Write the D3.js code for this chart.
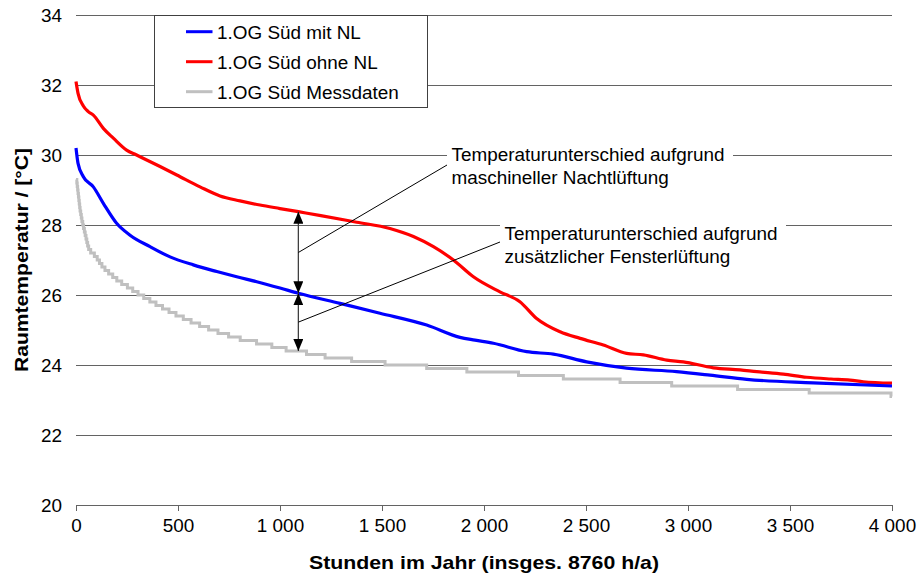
<!DOCTYPE html>
<html>
<head>
<meta charset="utf-8">
<script src="https://cdn.jsdelivr.net/npm/d3@7"></script>
<style>
  html, body { margin: 0; padding: 0; background: #fff; }
  svg { display: block; font-family: "Liberation Sans", Arial, sans-serif; }
</style>
</head>
<body>
<svg id="chart" width="919" height="577"></svg>
<script>
// Simulated room temperature, 1st floor south, with night ventilation (NL)
const mitNLHours = [0, 10, 36, 85, 134, 199, 265, 363, 461, 575, 690, 788, 886, 1000, 1090, 1294, 1490, 1719, 1882, 1956, 2046, 2209, 2340, 2503, 2699, 2944, 3108, 3288, 3614, 4000];
const mitNLTemps = [30.2, 29.76, 29.38, 29.09, 28.62, 28.05, 27.71, 27.38, 27.09, 26.86, 26.67, 26.52, 26.38, 26.2, 26.05, 25.76, 25.48, 25.14, 24.79, 24.71, 24.62, 24.38, 24.31, 24.09, 23.91, 23.81, 23.71, 23.59, 23.49, 23.4];

// Simulated room temperature without night ventilation
const ohneNLHours = [0, 10, 36, 60, 85, 134, 183, 248, 297, 412, 494, 608, 706, 804, 902, 1000, 1090, 1200, 1376, 1539, 1654, 1752, 1850, 1948, 2078, 2176, 2258, 2373, 2471, 2585, 2699, 2781, 2896, 2977, 3124, 3255, 3337, 3467, 3582, 3700, 3794, 3859, 4000];
const ohneNLTemps = [32.1, 31.76, 31.4, 31.24, 31.14, 30.76, 30.48, 30.14, 30.0, 29.67, 29.43, 29.09, 28.83, 28.69, 28.57, 28.47, 28.38, 28.27, 28.08, 27.9, 27.67, 27.38, 27.0, 26.52, 26.09, 25.81, 25.33, 24.95, 24.76, 24.57, 24.33, 24.29, 24.14, 24.09, 23.92, 23.86, 23.81, 23.74, 23.65, 23.6, 23.57, 23.52, 23.48];

// Measured data, logged in 0.1 °C steps: each level holds until the given hour
const messLevels = [29.3, 29.2, 29.1, 29.0, 28.9, 28.8, 28.7, 28.6, 28.5, 28.4, 28.3, 28.2, 28.1, 28.0, 27.9, 27.8, 27.7, 27.6, 27.5, 27.4, 27.3, 27.2, 27.1, 27.0, 26.9, 26.8, 26.7, 26.6, 26.5, 26.4, 26.3, 26.2, 26.1, 26.0, 25.9, 25.8, 25.7, 25.6, 25.5, 25.4, 25.3, 25.2, 25.1, 25.0, 24.9, 24.8, 24.7, 24.6, 24.5, 24.4, 24.3, 24.2, 24.1, 24.0, 23.9, 23.8, 23.7, 23.6, 23.5, 23.4, 23.3, 23.2, 23.1];
const messUntil  = [4, 6, 8, 10, 12, 14, 16, 18, 20, 23, 26, 29, 33, 37, 41, 45, 49, 53, 57, 62, 72, 90, 104, 115, 127, 142, 160, 180, 200, 224, 252, 278, 304, 332, 362, 392, 424, 456, 490, 526, 564, 606, 650, 696, 748, 805, 885, 960, 1030, 1130, 1221, 1351, 1515, 1719, 1916, 2169, 2389, 2667, 2920, 3243, 3594, 3995, 4000];

const xTicks = [0, 500, 1000, 1500, 2000, 2500, 3000, 3500, 4000];
const yTicks = [20, 22, 24, 26, 28, 30, 32, 34];

const seriesNames = ["1.OG Süd mit NL", "1.OG Süd ohne NL", "1.OG Süd Messdaten"];
const seriesColors = ["#0000ff", "#ff0000", "#c0c0c0"];

const annotationHour = 1090;
const noteNL = ["Temperaturunterschied aufgrund", "maschineller Nachtlüftung"];
const noteFenster = ["Temperaturunterschied aufgrund", "zusätzlicher Fensterlüftung"];

const xTitle = "Stunden im Jahr (insges. 8760 h/a)";
const yTitle = "Raumtemperatur / [°C]";

// ---------------------------------------------------------------
const svg = d3.select("#chart");
const margin = { left: 76, right: 27, top: 15, bottom: 72 };
const W = 919, H = 577;

const x = d3.scaleLinear().domain([0, 4000]).range([margin.left, W - margin.right]);
const y = d3.scaleLinear().domain([20, 34]).range([H - margin.bottom, margin.top]);

const fontSize = 18.9;
const gridColor = "#636363";

// horizontal grid lines
const grid = svg.append("g");
grid.selectAll("line")
  .data(yTicks.filter(t => t > 20))
  .join("line")
  .attr("x1", x(0)).attr("x2", x(4000))
  .attr("y1", d => y(d)).attr("y2", d => y(d))
  .attr("stroke", gridColor).attr("stroke-width", 1)
  .attr("shape-rendering", "crispEdges");

// y tick labels
svg.append("g").selectAll("text")
  .data(yTicks)
  .join("text")
  .attr("x", 62).attr("y", d => y(d))
  .attr("dy", "0.36em")
  .attr("text-anchor", "end")
  .attr("font-size", fontSize)
  .attr("fill", "#000")
  .text(d => d);

// x axis
const xAxis = d3.axisBottom(x).tickValues(xTicks).tickSize(6).tickPadding(8)
  .tickFormat(d => d3.format(",")(d).replace(/,/g, " "));
const gx = svg.append("g")
  .attr("transform", `translate(0,${y(20)})`)
  .call(xAxis);
gx.select(".domain").attr("stroke", gridColor).attr("shape-rendering", "crispEdges");
gx.selectAll(".tick line").attr("stroke", gridColor).attr("shape-rendering", "crispEdges");
gx.selectAll(".tick text")
  .attr("font-size", fontSize)
  .attr("font-family", "Liberation Sans, Arial, sans-serif")
  .attr("fill", "#000");

// axis titles
svg.append("text")
  .attr("x", 309).attr("y", 569)
  .attr("font-size", 19).attr("font-weight", "bold")
  .attr("textLength", 350).attr("lengthAdjust", "spacingAndGlyphs")
  .text(xTitle);

svg.append("text")
  .attr("transform", `translate(28,${(y(20) + y(34)) / 2}) rotate(-90)`)
  .attr("text-anchor", "middle")
  .attr("font-size", 19).attr("font-weight", "bold")
  .attr("textLength", 224).attr("lengthAdjust", "spacingAndGlyphs")
  .text(yTitle);

// series
const line = d3.line().x(d => x(d[0])).y(d => y(d[1])).curve(d3.curveMonotoneX);
const mitNL = mitNLHours.map((h, i) => [h, mitNLTemps[i]]);
const ohneNL = ohneNLHours.map((h, i) => [h, ohneNLTemps[i]]);

// measured levels as a step curve
const messLine = d3.line().x(d => x(d[0])).y(d => y(d[1])).curve(d3.curveStepAfter);
const messPts = messLevels.map((lv, i) => [i === 0 ? 0 : messUntil[i - 1], lv]);
messPts.push([messUntil[messUntil.length - 1], messLevels[messLevels.length - 1]]);

svg.append("path").datum(messPts)
  .attr("d", messLine)
  .attr("fill", "none").attr("stroke", seriesColors[2]).attr("stroke-width", 3);

svg.append("path").datum(ohneNL)
  .attr("d", line)
  .attr("fill", "none").attr("stroke", seriesColors[1]).attr("stroke-width", 3.2)
  .attr("stroke-linejoin", "round");

svg.append("path").datum(mitNL)
  .attr("d", line)
  .attr("fill", "none").attr("stroke", seriesColors[0]).attr("stroke-width", 3.2)
  .attr("stroke-linejoin", "round");

// value of a series at a given hour
function valueAt(hours, temps, h) {
  const i = d3.bisectRight(hours, h);
  if (i <= 0) return temps[0];
  if (i >= hours.length) return temps[temps.length - 1];
  const t = (h - hours[i - 1]) / (hours[i] - hours[i - 1]);
  return temps[i - 1] + t * (temps[i] - temps[i - 1]);
}
function messAt(h) {
  const i = messUntil.findIndex(u => h <= u);
  return messLevels[i < 0 ? messLevels.length - 1 : i];
}

const ax = x(annotationHour);
const yRed = y(valueAt(ohneNLHours, ohneNLTemps, annotationHour));
const yBlue = y(valueAt(mitNLHours, mitNLTemps, annotationHour));
const yGray = y(messAt(annotationHour));

// arrow heads
const defs = svg.append("defs");
defs.append("marker")
  .attr("id", "tri")
  .attr("viewBox", "0 0 12 10")
  .attr("refX", 12).attr("refY", 5)
  .attr("markerWidth", 12).attr("markerHeight", 10)
  .attr("markerUnits", "userSpaceOnUse")
  .attr("orient", "auto-start-reverse")
  .append("path").attr("d", "M0,0 L12,5 L0,10 Z").attr("fill", "#000");

const arrows = svg.append("g");
[[yRed, yBlue], [yBlue, yGray]].forEach(([a, b]) => {
  arrows.append("line")
    .attr("x1", ax).attr("x2", ax)
    .attr("y1", a).attr("y2", b)
    .attr("stroke", "#404040").attr("stroke-width", 1.3)
    .attr("marker-start", "url(#tri)")
    .attr("marker-end", "url(#tri)");
});

// annotation notes with leader lines
const notes = [
  { lines: noteNL, boxX: 447, boxW: 286, y0: 161, from: (yRed + yBlue) / 2, to: [447, 165] },
  { lines: noteFenster, boxX: 500, boxW: 286, y0: 240, from: (yBlue + yGray) / 2, to: [500, 242] }
];
notes.forEach(n => {
  svg.append("line")
    .attr("x1", ax).attr("y1", n.from)
    .attr("x2", n.to[0]).attr("y2", n.to[1])
    .attr("stroke", "#000").attr("stroke-width", 1);
  svg.append("rect")
    .attr("x", n.boxX).attr("y", n.y0 - 16)
    .attr("width", n.boxW).attr("height", 46)
    .attr("fill", "#fff");
  const t = svg.append("text")
    .attr("x", n.boxX + 4.5).attr("y", n.y0)
    .attr("font-size", fontSize).attr("fill", "#000");
  n.lines.forEach((s, i) => {
    t.append("tspan").attr("x", n.boxX + 4.5).attr("dy", i === 0 ? 0 : 22.5).text(s);
  });
});

// legend
const leg = svg.append("g").attr("transform", "translate(154,15)");
leg.append("rect")
  .attr("x", 0.5).attr("y", 0.5).attr("width", 273).attr("height", 92)
  .attr("fill", "#fff").attr("stroke", "#404040").attr("stroke-width", 1);
seriesNames.forEach((name, i) => {
  const cy = 16.7 + i * 30;
  leg.append("line")
    .attr("x1", 32).attr("x2", 58.5).attr("y1", cy).attr("y2", cy)
    .attr("stroke", seriesColors[i]).attr("stroke-width", 3);
  leg.append("text")
    .attr("x", 63).attr("y", cy).attr("dy", "0.36em")
    .attr("font-size", fontSize).attr("fill", "#000")
    .text(name);
});
</script>
</body>
</html>
